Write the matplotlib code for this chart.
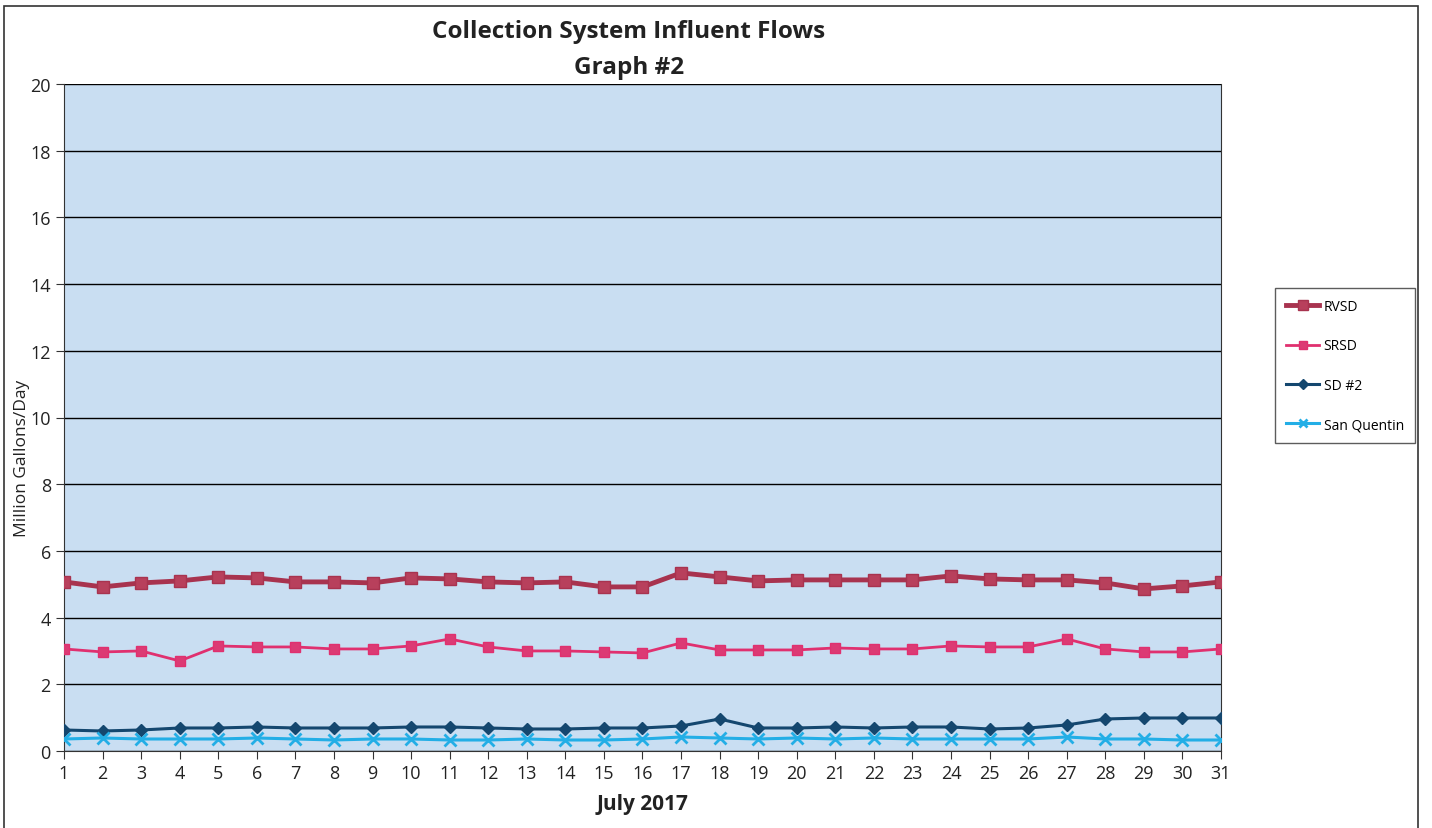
import numpy as np
import matplotlib.pyplot as plt
from matplotlib.patches import Rectangle

plt.rcParams['font.family'] = ['Open Sans', 'DejaVu Sans']

days = np.arange(1, 32)

rvsd = [5.07, 4.92, 5.04, 5.10, 5.22, 5.19, 5.07, 5.07, 5.04, 5.19,
        5.16, 5.07, 5.04, 5.07, 4.92, 4.92, 5.34, 5.22, 5.10, 5.13,
        5.13, 5.13, 5.13, 5.25, 5.16, 5.13, 5.13, 5.04, 4.86, 4.95, 5.07]
srsd = [3.06, 2.97, 3.00, 2.70, 3.15, 3.12, 3.12, 3.06, 3.06, 3.15,
        3.36, 3.12, 3.00, 3.00, 2.97, 2.94, 3.24, 3.03, 3.03, 3.03,
        3.09, 3.06, 3.06, 3.15, 3.12, 3.12, 3.36, 3.06, 2.97, 2.97, 3.06]
sd2 = [0.63, 0.60, 0.63, 0.69, 0.69, 0.72, 0.69, 0.69, 0.69, 0.72,
       0.72, 0.69, 0.66, 0.66, 0.69, 0.69, 0.75, 0.96, 0.69, 0.69,
       0.72, 0.69, 0.72, 0.72, 0.66, 0.69, 0.78, 0.96, 0.99, 0.99, 0.99]
san_quentin = [0.36, 0.39, 0.36, 0.36, 0.36, 0.39, 0.36, 0.33, 0.36, 0.36,
               0.33, 0.33, 0.36, 0.33, 0.33, 0.36, 0.42, 0.39, 0.36, 0.39,
               0.36, 0.39, 0.36, 0.36, 0.36, 0.36, 0.42, 0.36, 0.36, 0.33, 0.33]

W, H = 1432, 829
fig = plt.figure(figsize=(W / 100, H / 100), dpi=100)
ax = fig.add_axes([64 / W, 77 / H, (1221 - 64) / W, (752 - 85) / H])
ax.set_facecolor('#c9def2')

ax.plot(days, rvsd, color='#a8334f', lw=3.5, marker='s', ms=9,
        mfc='#b8405c', mec='#a8334f', label='RVSD', zorder=4)
ax.plot(days, srsd, color='#e0306f', lw=2, marker='s', ms=7,
        mfc='#dc3a74', mec='#e0306f', label='SRSD', zorder=4)
ax.plot(days, sd2, color='#14476f', lw=2.2, marker='D', ms=6,
        label='SD #2', zorder=4)
ax.plot(days, san_quentin, color='#23aee6', lw=2.2, marker='x', ms=8,
        mew=2, label='San Quentin', zorder=4)

ax.set_xlim(1, 31)
ax.set_ylim(0, 20)
ax.set_xticks(days)
ax.set_yticks(np.arange(0, 21, 2))
ax.grid(axis='y', color='black', lw=1)
ax.set_axisbelow(True)
ax.tick_params(labelsize=13, length=6, direction='out', color='#333333',
               labelcolor='#222222')
for s in ax.spines.values():
    s.set_color('#333333')
ax.spines['top'].set_visible(False)

# two-line heading, spaced like the original report
fig.text(629 / W, 1 - 32 / H, 'Collection System Influent Flows', ha='center',
         va='center', fontsize=17.5, fontweight='bold', color='#222222')
fig.text(629 / W, 1 - 68 / H, 'Graph #2', ha='center', va='center',
         fontsize=17.5, fontweight='bold', color='#222222')

ax.set_xlabel('July 2017', fontsize=15, fontweight='bold', labelpad=8,
              color='#222222')
ax.set_ylabel('Million Gallons/Day', fontsize=12.5, color='#222222')
ax.yaxis.set_label_coords(-0.029, 0.44)

leg = ax.legend(loc='upper left', bbox_to_anchor=(1275 / W, 1 - 289 / H),
                bbox_transform=fig.transFigure,
                fontsize=10, frameon=True, fancybox=False, edgecolor='#333333',
                labelspacing=1.75, handlelength=2.4, handletextpad=0.3,
                borderpad=0.8, borderaxespad=0, markerscale=0.8)
leg.get_frame().set_linewidth(1)

fig.patches.append(Rectangle((4 / W, -0.01), 1414 / W, 1 - 7 / H + 0.01,
                             transform=fig.transFigure, fill=False,
                             edgecolor='#333333', lw=1.2))

fig.savefig('out.png', dpi=100)
